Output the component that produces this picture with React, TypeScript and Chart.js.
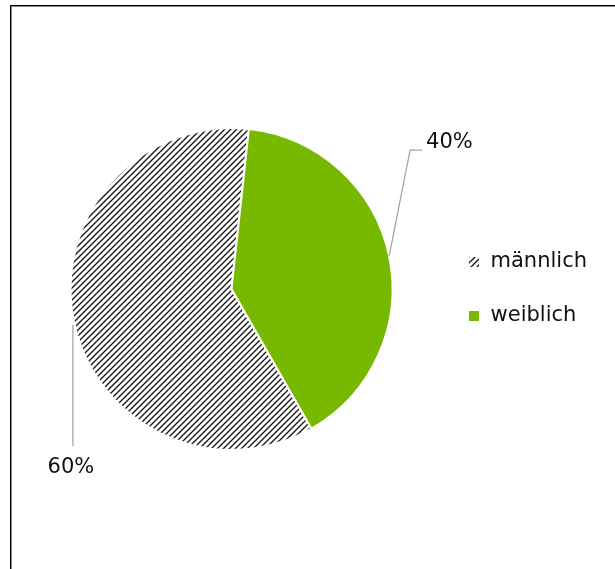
import React, { useEffect, useRef } from "react";
import { Chart, registerables } from "chart.js";

Chart.register(...registerables);

const categories = ["männlich", "weiblich"];
const values = [60, 40];
const valueLabels = ["60%", "40%"];

const GREEN = "#76B900";
const FONT = "'DejaVu Sans', sans-serif";

function makeHatch(): CanvasPattern | string {
  const c = document.createElement("canvas");
  const s = 6;
  c.width = s;
  c.height = s;
  const x = c.getContext("2d");
  if (!x) return "#555";
  x.fillStyle = "#fff";
  x.fillRect(0, 0, s, s);
  x.strokeStyle = "#1a1a1a";
  x.lineWidth = 1.4;
  x.beginPath();
  x.moveTo(-1, s + 1);
  x.lineTo(s + 1, -1);
  x.moveTo(-1, 1);
  x.lineTo(1, -1);
  x.moveTo(s - 1, s + 1);
  x.lineTo(s + 1, s - 1);
  x.stroke();
  const p = x.createPattern(c, "repeat");
  return p || "#555";
}

// leader-line label offsets relative to the arc's outer mid-point
const leaderStyles = [
  { path: [[-1, 3], [-1, 124]], text: [-3, 146], align: "center" as CanvasTextAlign },
  { path: [[0, 0], [21, -106], [33, -106]], text: [37, -114], align: "left" as CanvasTextAlign },
];

const leaderPlugin = {
  id: "leaderLabels",
  afterDatasetsDraw(chart: any) {
    const ctx = chart.ctx;
    const meta = chart.getDatasetMeta(0);
    meta.data.forEach((arc: any, i: number) => {
      const { x, y, startAngle, endAngle, outerRadius } = arc.getProps(
        ["x", "y", "startAngle", "endAngle", "outerRadius"],
        true
      );
      const mid = (startAngle + endAngle) / 2;
      const ax = x + Math.cos(mid) * outerRadius;
      const ay = y + Math.sin(mid) * outerRadius;
      const st = leaderStyles[i];
      ctx.save();
      ctx.strokeStyle = "#A6A6A6";
      ctx.lineWidth = 1.3;
      ctx.beginPath();
      st.path.forEach((p, k) => {
        if (k === 0) ctx.moveTo(ax + p[0], ay + p[1]);
        else ctx.lineTo(ax + p[0], ay + p[1]);
      });
      ctx.stroke();
      ctx.fillStyle = "#111";
      ctx.font = `21px ${FONT}`;
      ctx.textAlign = st.align;
      ctx.textBaseline = "middle";
      ctx.fillText(valueLabels[i], ax + st.text[0], ay + st.text[1]);
      ctx.restore();
    });
  },
};

export default function App() {
  const ref = useRef<HTMLCanvasElement>(null);
  useEffect(() => {
    if (!ref.current) return;
    const hatch = makeHatch();
    const chart = new Chart(ref.current, {
      type: "pie",
      data: {
        labels: categories,
        datasets: [
          {
            data: values,
            backgroundColor: [hatch as any, GREEN],
            borderColor: "#fff",
            borderWidth: 2,
          },
        ],
      },
      options: {
        animation: false,
        responsive: false,
        rotation: 150.2,
        layout: { padding: { left: 28, right: 18, top: 127, bottom: 118 } },
        plugins: {
          tooltip: { enabled: false },
          legend: {
            position: "right",
            labels: {
              boxWidth: 12,
              boxHeight: 12,
              padding: 33,
              color: "#111",
              font: { family: FONT, size: 21 },
            },
          },
        },
      },
      plugins: [leaderPlugin],
    });
    return () => chart.destroy();
  }, []);

  return (
    <div style={{ position: "fixed", left: 0, top: 0, width: 615, height: 569, background: "#fff", overflow: "hidden" }}>
      <canvas ref={ref} width={615} height={569} style={{ position: "absolute", left: 0, top: 0 }} />
      <div
        style={{
          position: "absolute",
          left: 10,
          top: 5,
          width: 640,
          height: 600,
          borderLeft: "1.5px solid #000",
          borderTop: "1.5px solid #000",
          boxShadow: "inset 1px 1px 0 #888",
          pointerEvents: "none",
        }}
      />
    </div>
  );
}
